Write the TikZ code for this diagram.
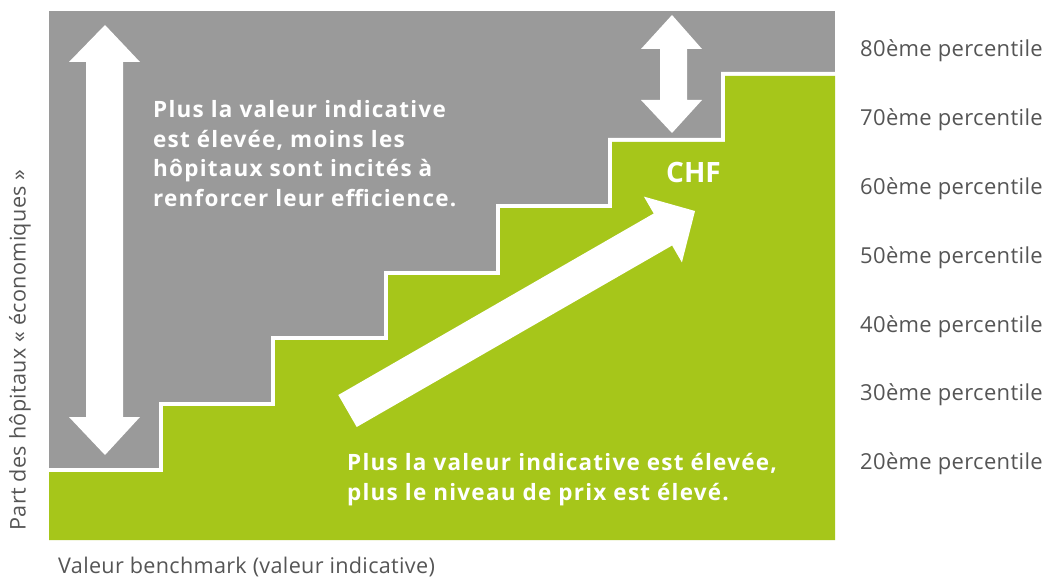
\documentclass[tikz,border=0pt]{standalone}
\usepackage{fontspec}
\setmainfont{Open Sans}
\newfontfamily\boldwide[LetterSpace=5.4]{Open Sans}
\newfontfamily\regwide[LetterSpace=1.5]{Open Sans}
\definecolor{bggray}{RGB}{154,154,154}
\definecolor{stepgreen}{RGB}{166,198,26}
\definecolor{labgray}{RGB}{85,85,85}
\begin{document}
\begin{tikzpicture}[x=1pt,y=-1pt,
  pct/.style={anchor=base west,inner sep=0pt,text=labgray,font=\regwide\fontsize{22}{26}\selectfont},
  boldtxt/.style={anchor=base west,inner sep=0pt,text=white,align=left,font=\boldwide\bfseries\fontsize{22.5}{30}\selectfont},
  chftxt/.style={anchor=base west,inner sep=0pt,text=white,font=\bfseries\fontsize{28}{30}\selectfont},
  axislbl/.style={inner sep=0pt,text=labgray,font=\regwide\fontsize{21.6}{26}\selectfont},
  arrowshape/.style={fill=white,draw=none}]
\useasboundingbox (0,0) rectangle (1046,580);
% background
\fill[bggray] (49,11) rectangle (835,540);
\begin{scope}
\clip (49,11) rectangle (835,540);
\fill[white,shift={(-4,-4)}] (49,560) -- (49,472) -- (163,472) -- (163,406) -- (275,406) -- (275,340) -- (388,340) -- (388,275) -- (500,275) -- (500,208) -- (612,208) -- (612,142) -- (725,142) -- (725,76) -- (860,76) -- (860,560) -- cycle;
\fill[stepgreen] (49,540) -- (49,472) -- (163,472) -- (163,406) -- (275,406) -- (275,340) -- (388,340) -- (388,275) -- (500,275) -- (500,208) -- (612,208) -- (612,142) -- (725,142) -- (725,76) -- (835,76) -- (835,540) -- cycle;
\end{scope}
% left double arrow
\fill[arrowshape] (105,25) -- (140,62) -- (123,62) -- (123,417) -- (140,417) -- (105,455) -- (69,417) -- (86,417) -- (86,62) -- (69,62) -- cycle;
% top right double arrow
\fill[arrowshape] (672,15) -- (702,49) -- (687,49) -- (687,100) -- (702,100) -- (672,133) -- (641,100) -- (660,100) -- (660,49) -- (641,49) -- cycle;
% diagonal arrow
\coordinate (tailA) at (338.3,395);
\coordinate (tailB) at (356.7,427);
\coordinate (tip) at (695,211);
\fill[arrowshape] (tailA) -- (653.7,213.5) -- (643.9,196.6) -- (tip) -- (681.9,262.4) -- (672.1,245.5) -- (tailB) -- cycle;
% texts
\node[boldtxt] (t1) at (153,118) {Plus la valeur indicative};
\node[boldtxt] (t2) at (153,148) {est élevée, moins les};
\node[boldtxt] (t3) at (153,177) {hôpitaux sont incités à};
\node[boldtxt] (t4) at (153,207) {renforcer leur efficience.};
\node[chftxt] (chf) at (666,182.5) {CHF};
\node[boldtxt] (b1) at (347,470) {Plus la valeur indicative est élevée,};
\node[boldtxt] (b2) at (347,500) {plus le niveau de prix est élevé.};
% percentiles
\node[pct] (p80) at (860,57) {80ème percentile};
\node[pct] (p70) at (860,126) {70ème percentile};
\node[pct] (p60) at (860,194) {60ème percentile};
\node[pct] (p50) at (860,263) {50ème percentile};
\node[pct] (p40) at (860,332) {40ème percentile};
\node[pct] (p30) at (860,400) {30ème percentile};
\node[pct] (p20) at (860,469) {20ème percentile};
% axes labels
\node[axislbl,rotate=90] (ylab) at (20,350) {Part des hôpitaux « économiques »};
\node[axislbl,anchor=base west] (xlab) at (58,573.5) {Valeur benchmark (valeur indicative)};
\end{tikzpicture}
\end{document}
